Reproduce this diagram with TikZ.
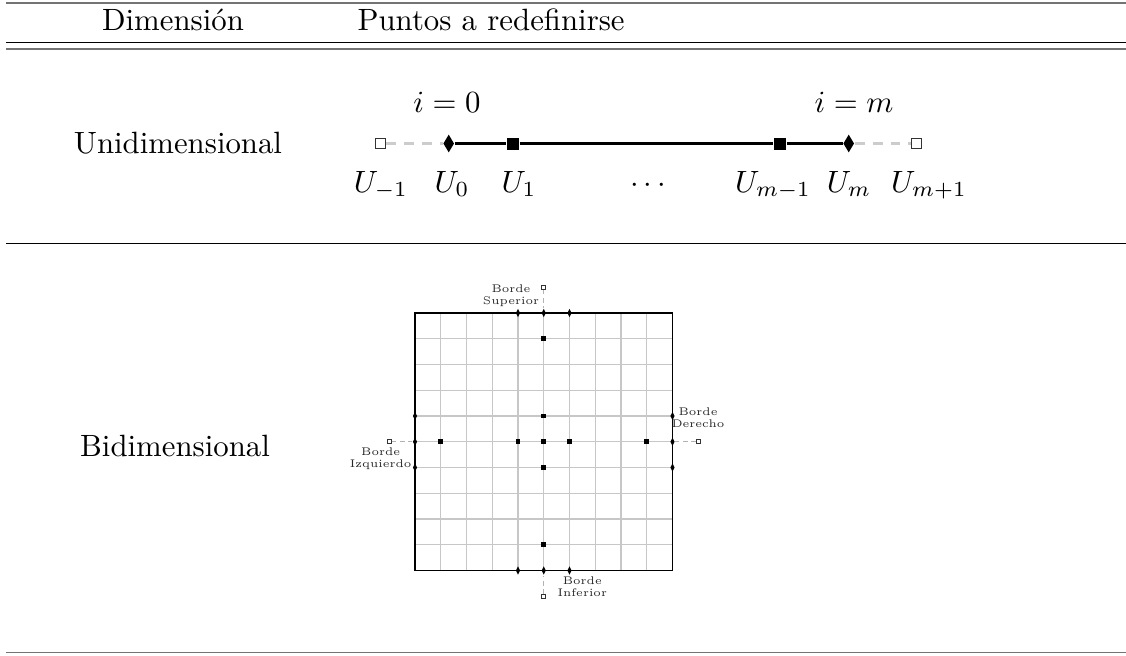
\documentclass[tikz,border=0pt]{standalone}
\usetikzlibrary{shapes.geometric}
\newcommand{\bordelbl}[2]{\scalebox{0.72}{\fontsize{5}{5.4}\selectfont\begin{tabular}{@{}c@{}}#1\\#2\end{tabular}}}
\begin{document}
\begin{tikzpicture}[x=0.3247pt,y=-0.3247pt,
  txt/.style={inner sep=0pt},
  sq/.style={rectangle, fill=black, inner sep=0pt, minimum size=3.9pt},
  osq/.style={rectangle, draw=black!80, fill=white, line width=0.3pt, inner sep=0pt, minimum size=3.4pt},
  dia/.style={diamond, fill=black, inner sep=0pt, minimum width=3.6pt, minimum height=5.9pt},
  ssq/.style={rectangle, fill=black, inner sep=0pt, minimum size=1.5pt},
  sosq/.style={rectangle, draw=black!80, fill=white, line width=0.25pt, inner sep=0pt, minimum size=1.3pt},
  sdia/.style={diamond, fill=black, inner sep=0pt, minimum width=1.5pt, minimum height=2.9pt},
  lbl/.style={text=black!85, inner sep=0pt},
  mainline/.style={line width=0.8pt, black},
  ghost/.style={line width=0.8pt, black!20, dash pattern=on 3.2pt off 2.6pt},
  sghost/.style={line width=0.3pt, black!30, dash pattern=on 1.5pt off 1.2pt},
  gridline/.style={line width=0.4pt, black!22},
  frame/.style={line width=0.55pt, black},
  thinrule/.style={line width=0.4pt, black},
  greyrule/.style={line width=0.6pt, black!55}
]
\useasboundingbox (0,0) rectangle (1126,655);

% rules of the table
\coordinate (r0a) at (6,2.7);   \coordinate (r0b) at (1126,2.7);
\coordinate (r1a) at (6,42.3);  \coordinate (r1b) at (1126,42.3);
\coordinate (r2a) at (6,48.7);  \coordinate (r2b) at (1126,48.7);
\coordinate (r3a) at (6,243.3); \coordinate (r3b) at (1126,243.3);
\coordinate (r4a) at (6,652.5); \coordinate (r4b) at (1126,652.5);
\draw[greyrule] (r0a) -- (r0b);
\draw[thinrule] (r1a) -- (r1b);
\draw[greyrule] (r2a) -- (r2b);
\draw[thinrule] (r3a) -- (r3b);
\draw[greyrule] (r4a) -- (r4b);

% header
\node[txt, anchor=base] (hdim) at (173,30) {Dimensión};
\node[txt, anchor=base west] (hpts) at (357,30) {Puntos a redefinirse};

% row labels
\node[txt] (uni) at (178,143) {Unidimensional};
\node[txt] (bid) at (175,446) {Bidimensional};

% one-dimensional row
\node[osq] (um1) at (380.5,143.5) {};
\node[dia] (u0) at (448.7,143.5) {};
\node[sq] (u1) at (513,143.5) {};
\node[sq] (umm1) at (780,143.5) {};
\node[dia] (um) at (848.7,143.5) {};
\node[osq] (ump1) at (916.5,143.5) {};
\draw[ghost] (um1) -- (u0);
\draw[mainline] (u0) -- (u1);
\draw[mainline] (u1) -- (umm1);
\draw[mainline] (umm1) -- (um);
\draw[ghost] (um) -- (ump1);

\node[txt, anchor=base] (i0) at (447,112) {$i=0$};
\node[txt, anchor=base] (im) at (854,112) {$i=m$};
\node[txt, anchor=base] (lum1) at (381,192) {$U_{-1}$};
\node[txt, anchor=base] (lu0) at (452,192) {$U_0$};
\node[txt, anchor=base] (lu1) at (519,192) {$U_1$};
\node[txt, anchor=base] (ldots) at (648,192) {$\cdots$};
\node[txt, anchor=base] (lumm1) at (773,192) {$U_{m-1}$};
\node[txt, anchor=base] (lum) at (849,192) {$U_m$};
\node[txt, anchor=base] (lump1) at (929,192) {$U_{m+1}$};

% two-dimensional row: grid
\foreach \k in {1,...,9} {
  \draw[gridline] ({415+25.75*\k},313) -- ({415+25.75*\k},570.5);
  \draw[gridline] (415,{313+25.75*\k}) -- (672.5,{313+25.75*\k});
}
\draw[frame] (415,313) rectangle (672.5,570.5);

% boundary points (diamonds)
\foreach \i/\j/\n in {4/0/t4,5/0/t5,6/0/t6,4/10/b4,5/10/b5,6/10/b6,0/4/l4,0/5/l5,0/6/l6,10/4/r4,10/5/r5,10/6/r6}
  \node[sdia] (\n) at ({415+25.75*\i},{313+25.75*\j}) {};
% interior points (squares)
\foreach \i/\j/\n in {5/1/s1,5/4/s2,5/5/s3,5/6/s4,1/5/s5,4/5/s6,6/5/s7,9/5/s8,5/9/s9}
  \node[ssq] (\n) at ({415+25.75*\i},{313+25.75*\j}) {};
% ghost points (open squares)
\foreach \i/\j/\n in {5/-1/ot,5/11/ob,-1/5/ol,11/5/or}
  \node[sosq] (\n) at ({415+25.75*\i},{313+25.75*\j}) {};
\draw[sghost] (ot) -- (t5);
\draw[sghost] (ob) -- (b5);
\draw[sghost] (ol) -- (l5);
\draw[sghost] (or) -- (r5);

\node[lbl] (bsup) at (511,296.5) {\bordelbl{Borde}{Superior}};
\node[lbl] (bder) at (698,418.7) {\bordelbl{Borde}{Derecho}};
\node[lbl] (bizq) at (380.7,458.8) {\bordelbl{Borde}{Izquierdo}};
\node[lbl] (binf) at (582.3,588.2) {\bordelbl{Borde}{Inferior}};
\end{tikzpicture}
\end{document}
